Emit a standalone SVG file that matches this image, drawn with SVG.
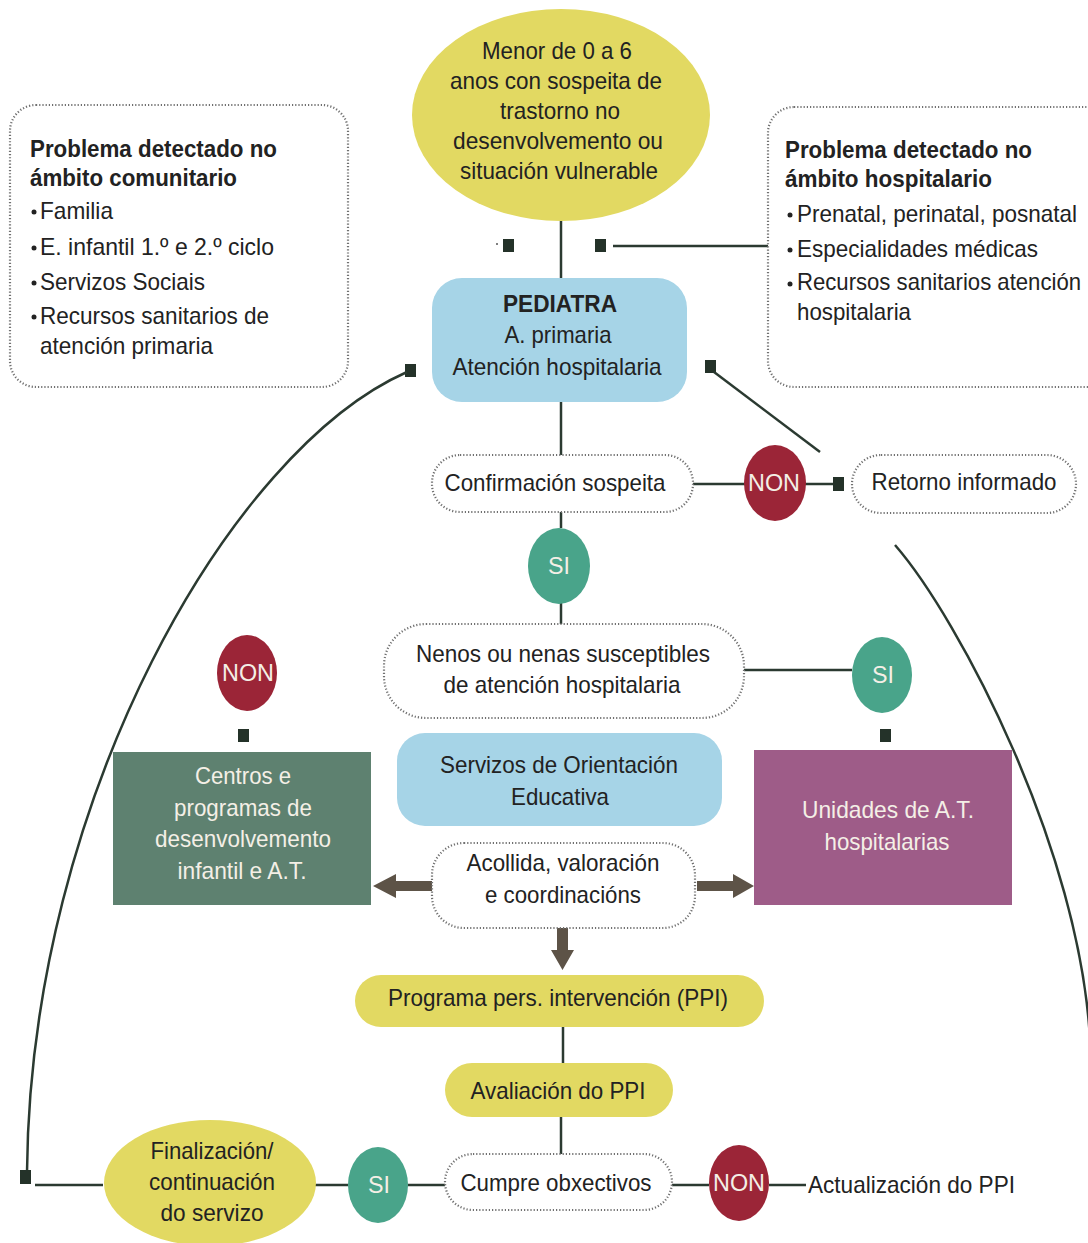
<svg xmlns="http://www.w3.org/2000/svg" width="1088" height="1243" viewBox="0 0 1088 1243">
<style>
text{font-family:"Liberation Sans",Arial,sans-serif;font-size:24px;fill:#222;}
.c{text-anchor:middle;}
.b{font-weight:bold;}
.w{fill:#f4efe6;}
.dot{fill:#fff;stroke:#707070;stroke-width:2.2;stroke-dasharray:1.2 2;}
.ln{fill:none;stroke:#2b3a31;stroke-width:2.5;}
.sq{fill:#243229;}
.yel{fill:#e2d962;}
.blue{fill:#a6d4e7;}
.non{fill:#9b2537;}
.si{fill:#49a48a;}
.arr{fill:#5d5347;}
.bul{fill:#222;}
</style>
<g id="connectors">
<line class="ln" x1="561" y1="220" x2="561" y2="278"/>
<line class="ln" x1="613" y1="246" x2="768" y2="246"/>
<rect class="sq" x="503" y="239" width="11" height="13"/>
<rect class="sq" x="595" y="239" width="11" height="13"/>
<circle cx="497" cy="244" r="1" fill="#555"/>
<line class="ln" x1="561" y1="402" x2="561" y2="455"/>
<line class="ln" x1="693" y1="484" x2="745" y2="484"/>
<line class="ln" x1="805" y1="484" x2="834" y2="484"/>
<rect class="sq" x="833" y="477" width="11" height="14"/>
<line class="ln" x1="561" y1="512" x2="561" y2="528"/>
<line class="ln" x1="561" y1="603" x2="561" y2="624"/>
<line class="ln" x1="744" y1="670" x2="852" y2="670"/>
<rect class="sq" x="880" y="729" width="11" height="13"/>
<rect class="sq" x="238" y="729" width="11" height="13"/>
<rect class="sq" x="405" y="364" width="11" height="13"/>
<rect class="sq" x="705" y="360" width="11" height="13"/>
<line class="ln" x1="714" y1="372" x2="820" y2="452"/>
<path class="ln" d="M 27 1172 C 30 800 230 450 407 372"/>
<path class="ln" d="M 895 545 C 960 620 1080 850 1090 1040"/>
<rect class="sq" x="20" y="1170" width="11" height="14"/>
<line class="ln" x1="35" y1="1185" x2="103" y2="1185"/>
<line class="ln" x1="315" y1="1185" x2="348" y2="1185"/>
<line class="ln" x1="408" y1="1185" x2="445" y2="1185"/>
<line class="ln" x1="672" y1="1185" x2="709" y2="1185"/>
<line class="ln" x1="769" y1="1185" x2="806" y2="1185"/>
<line class="ln" x1="563" y1="1027" x2="563" y2="1063"/>
<line class="ln" x1="561" y1="1117" x2="561" y2="1154"/>
<path class="arr" d="M432 881 L396 881 L396 874 L373 886 L396 898 L396 891 L432 891 Z"/>
<path class="arr" d="M697 881 L733 881 L733 874 L754 886 L733 898 L733 891 L697 891 Z"/>
<path class="arr" d="M557 928 L557 950 L551 950 L562.5 970 L574 950 L568 950 L568 928 Z"/>
</g>
<g id="n-menor">
<ellipse class="yel" cx="561" cy="115" rx="149" ry="106"/>
<text class="c" x="557" y="59" textLength="150" lengthAdjust="spacingAndGlyphs">Menor de 0 a 6</text>
<text class="c" x="556" y="89" textLength="212" lengthAdjust="spacingAndGlyphs">anos con sospeita de</text>
<text class="c" x="560" y="119" textLength="120" lengthAdjust="spacingAndGlyphs">trastorno no</text>
<text class="c" x="558" y="149" textLength="210" lengthAdjust="spacingAndGlyphs">desenvolvemento ou</text>
<text class="c" x="559" y="179" textLength="198" lengthAdjust="spacingAndGlyphs">situación vulnerable</text>
</g>
<g id="n-comunitario">
<rect class="dot" x="10" y="105" width="338" height="282" rx="26"/>
<text class="b" x="30" y="157" textLength="247" lengthAdjust="spacingAndGlyphs">Problema detectado no</text>
<text class="b" x="30" y="186" textLength="207" lengthAdjust="spacingAndGlyphs">ámbito comunitario</text>
<circle class="bul" cx="34" cy="212" r="2.5"/>
<text x="40" y="219" textLength="73" lengthAdjust="spacingAndGlyphs">Familia</text>
<circle class="bul" cx="34" cy="248" r="2.5"/>
<text x="40" y="255" textLength="234" lengthAdjust="spacingAndGlyphs">E. infantil 1.º e 2.º  ciclo</text>
<circle class="bul" cx="34" cy="283" r="2.5"/>
<text x="40" y="290" textLength="165" lengthAdjust="spacingAndGlyphs">Servizos Sociais</text>
<circle class="bul" cx="34" cy="317" r="2.5"/>
<text x="40" y="324" textLength="229" lengthAdjust="spacingAndGlyphs">Recursos sanitarios de</text>
<text x="40" y="354" textLength="173" lengthAdjust="spacingAndGlyphs">atención primaria</text>
</g>
<g id="n-hospitalario">
<rect class="dot" x="768" y="107" width="350" height="280" rx="26"/>
<text class="b" x="785" y="158" textLength="247" lengthAdjust="spacingAndGlyphs">Problema detectado no</text>
<text class="b" x="785" y="187" textLength="207" lengthAdjust="spacingAndGlyphs">ámbito hospitalario</text>
<circle class="bul" cx="790" cy="215" r="2.5"/>
<text x="797" y="222" textLength="280" lengthAdjust="spacingAndGlyphs">Prenatal, perinatal, posnatal</text>
<circle class="bul" cx="790" cy="250" r="2.5"/>
<text x="797" y="257" textLength="241" lengthAdjust="spacingAndGlyphs">Especialidades médicas</text>
<circle class="bul" cx="790" cy="284" r="2.5"/>
<text x="797" y="290" textLength="284" lengthAdjust="spacingAndGlyphs">Recursos sanitarios atención</text>
<text x="797" y="320" textLength="114" lengthAdjust="spacingAndGlyphs">hospitalaria</text>
</g>
<g id="n-pediatra">
<rect class="blue" x="432" y="278" width="255" height="124" rx="30"/>
<text class="c b" x="560" y="312" textLength="114" lengthAdjust="spacingAndGlyphs">PEDIATRA</text>
<text class="c" x="558" y="343" textLength="107" lengthAdjust="spacingAndGlyphs">A. primaria</text>
<text class="c" x="557" y="375" textLength="209" lengthAdjust="spacingAndGlyphs">Atención hospitalaria</text>
</g>
<g id="n-confirmacion">
<rect class="dot" x="432" y="455" width="261" height="57" rx="28"/>
<text class="c" x="555" y="491" textLength="221" lengthAdjust="spacingAndGlyphs">Confirmación sospeita</text>
</g>
<g id="n-non1">
<ellipse class="non" cx="775" cy="483" rx="31" ry="38"/>
<text class="c w" x="774" y="491" font-size="23" textLength="52" lengthAdjust="spacingAndGlyphs">NON</text>
</g>
<g id="n-retorno">
<rect class="dot" x="852" y="455" width="224" height="58" rx="29"/>
<text class="c" x="964" y="490" textLength="185" lengthAdjust="spacingAndGlyphs">Retorno informado</text>
</g>
<g id="n-si1">
<ellipse class="si" cx="559" cy="566" rx="31" ry="38"/>
<text class="c w" x="559" y="574" font-size="23" textLength="22" lengthAdjust="spacingAndGlyphs">SI</text>
</g>
<g id="n-nenos">
<rect class="dot" x="384" y="624" width="360" height="94" rx="42"/>
<text class="c" x="563" y="662" textLength="294" lengthAdjust="spacingAndGlyphs">Nenos ou nenas susceptibles</text>
<text class="c" x="562" y="693" textLength="237" lengthAdjust="spacingAndGlyphs">de atención hospitalaria</text>
</g>
<g id="n-si2">
<ellipse class="si" cx="882" cy="675" rx="30" ry="38"/>
<text class="c w" x="883" y="683" font-size="23" textLength="22" lengthAdjust="spacingAndGlyphs">SI</text>
</g>
<g id="n-non2">
<ellipse class="non" cx="247" cy="673" rx="30" ry="38"/>
<text class="c w" x="248" y="681" font-size="23" textLength="52" lengthAdjust="spacingAndGlyphs">NON</text>
</g>
<g id="n-unidades">
<rect x="754" y="750" width="258" height="155" fill="#9e5c88"/>
<text class="c w" x="888" y="818" textLength="172" lengthAdjust="spacingAndGlyphs">Unidades de A.T.</text>
<text class="c w" x="887" y="850" textLength="125" lengthAdjust="spacingAndGlyphs">hospitalarias</text>
</g>
<g id="n-centros">
<rect x="113" y="752" width="258" height="153" fill="#5e8170"/>
<text class="c w" x="243" y="784" textLength="96" lengthAdjust="spacingAndGlyphs">Centros e</text>
<text class="c w" x="243" y="816" textLength="138" lengthAdjust="spacingAndGlyphs">programas de</text>
<text class="c w" x="243" y="847" textLength="176" lengthAdjust="spacingAndGlyphs">desenvolvemento</text>
<text class="c w" x="242" y="879" textLength="129" lengthAdjust="spacingAndGlyphs">infantil e A.T.</text>
</g>
<g id="n-servizos">
<rect class="blue" x="397" y="733" width="325" height="93" rx="28"/>
<text class="c" x="559" y="773" textLength="238" lengthAdjust="spacingAndGlyphs">Servizos de Orientación</text>
<text class="c" x="560" y="805" textLength="98" lengthAdjust="spacingAndGlyphs">Educativa</text>
</g>
<g id="n-acollida">
<rect class="dot" x="432" y="843" width="263" height="85" rx="32"/>
<text class="c" x="563" y="871" textLength="193" lengthAdjust="spacingAndGlyphs">Acollida, valoración</text>
<text class="c" x="563" y="903" textLength="156" lengthAdjust="spacingAndGlyphs">e coordinacións</text>
</g>
<g id="n-programa">
<rect class="yel" x="355" y="975" width="409" height="52" rx="26"/>
<text class="c" x="558" y="1006" textLength="340" lengthAdjust="spacingAndGlyphs">Programa pers. intervención (PPI)</text>
</g>
<g id="n-avaliacion">
<rect class="yel" x="445" y="1063" width="228" height="54" rx="27"/>
<text class="c" x="558" y="1099" textLength="175" lengthAdjust="spacingAndGlyphs">Avaliación do PPI</text>
</g>
<g id="n-cumpre">
<rect class="dot" x="445" y="1154" width="227" height="56" rx="28"/>
<text class="c" x="556" y="1191" textLength="191" lengthAdjust="spacingAndGlyphs">Cumpre obxectivos</text>
</g>
<g id="n-si3">
<ellipse class="si" cx="378" cy="1185" rx="30" ry="38"/>
<text class="c w" x="379" y="1193" font-size="23" textLength="22" lengthAdjust="spacingAndGlyphs">SI</text>
</g>
<g id="n-non3">
<ellipse class="non" cx="739" cy="1183" rx="30" ry="38"/>
<text class="c w" x="739" y="1191" font-size="23" textLength="52" lengthAdjust="spacingAndGlyphs">NON</text>
</g>
<g id="n-finalizacion">
<ellipse class="yel" cx="210" cy="1183" rx="106" ry="63"/>
<text class="c" x="212" y="1159" textLength="123" lengthAdjust="spacingAndGlyphs">Finalización/</text>
<text class="c" x="212" y="1190" textLength="126" lengthAdjust="spacingAndGlyphs">continuación</text>
<text class="c" x="212" y="1221" textLength="103" lengthAdjust="spacingAndGlyphs">do servizo</text>
</g>
<g id="n-actualizacion">
<text x="808" y="1193" textLength="207" lengthAdjust="spacingAndGlyphs">Actualización do PPI</text>
</g>
</svg>
